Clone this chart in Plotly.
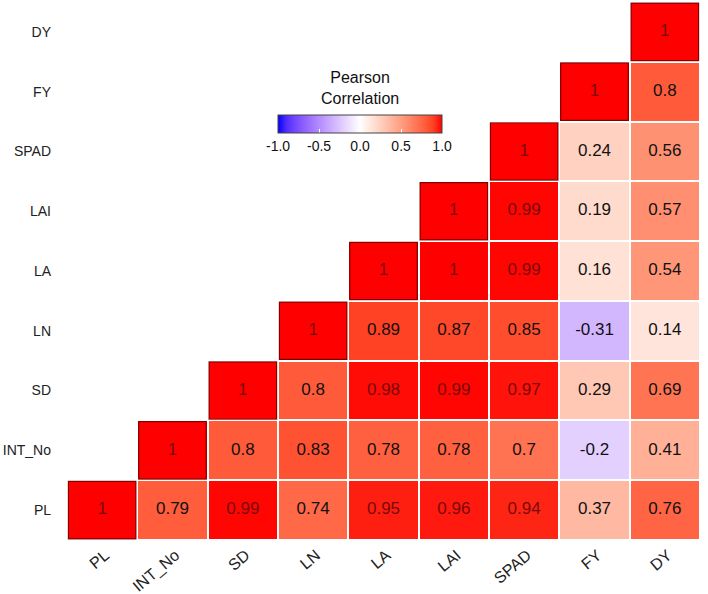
import plotly.graph_objects as go
import numpy as np

variables = ["PL", "INT_No", "SD", "LN", "LA", "LAI", "SPAD", "FY", "DY"]

# upper-triangle correlation rows (row variable vs. columns from itself to DY)
row_PL = [1, 0.79, 0.99, 0.74, 0.95, 0.96, 0.94, 0.37, 0.76]
row_INT_No = [1, 0.8, 0.83, 0.78, 0.78, 0.7, -0.2, 0.41]
row_SD = [1, 0.8, 0.98, 0.99, 0.97, 0.29, 0.69]
row_LN = [1, 0.89, 0.87, 0.85, -0.31, 0.14]
row_LA = [1, 1, 0.99, 0.16, 0.54]
row_LAI = [1, 0.99, 0.19, 0.57]
row_SPAD = [1, 0.24, 0.56]
row_FY = [1, 0.8]
row_DY = [1]

colorbar_ticks = [-1, -0.5, 0, 0.5, 1]
colorbar_ticktext = ["-1.0", "-0.5", "0.0", "0.5", "1.0"]

rows = [row_PL, row_INT_No, row_SD, row_LN, row_LA, row_LAI, row_SPAD, row_FY, row_DY]
n = len(variables)

z = [[None] * n for _ in range(n)]
for i, r in enumerate(rows):
    for k, v in enumerate(r):
        z[i][i + k] = v

# Lab interpolation to mimic ggplot gradient2 (blue - white - red)
def srgb_to_lin(c):
    c = c / 255.0
    return np.where(c <= 0.04045, c / 12.92, ((c + 0.055) / 1.055) ** 2.4)

def lin_to_srgb(c):
    c = np.clip(c, 0, 1)
    return np.where(c <= 0.0031308, 12.92 * c, 1.055 * c ** (1 / 2.4) - 0.055) * 255

M = np.array([[0.4124, 0.3576, 0.1805], [0.2126, 0.7152, 0.0722], [0.0193, 0.1192, 0.9505]])
Minv = np.linalg.inv(M)
wp = np.array([0.95047, 1.0, 1.08883])

def f(t):
    d = 6 / 29
    return np.where(t > d ** 3, np.cbrt(t), t / (3 * d * d) + 4 / 29)

def finv(t):
    d = 6 / 29
    return np.where(t > d, t ** 3, 3 * d * d * (t - 4 / 29))

def rgb_to_lab(rgb):
    xyz = M @ srgb_to_lin(np.array(rgb, dtype=float)) / wp
    fx, fy, fz = f(xyz)
    return np.array([116 * fy - 16, 500 * (fx - fy), 200 * (fy - fz)])

def lab_to_rgb(lab):
    L, a, b = lab
    fy = (L + 16) / 116
    fx = fy + a / 500
    fz = fy - b / 200
    xyz = np.array([finv(fx), finv(fy), finv(fz)]) * wp
    return lin_to_srgb(Minv @ xyz)

blue = rgb_to_lab([0, 0, 255])
white = rgb_to_lab([255, 255, 255])
red = rgb_to_lab([255, 0, 0])
colorscale = []
steps = 20
for s in range(steps + 1):
    t = s / steps
    v = -1 + 2 * t
    if v < 0:
        lab = white + (blue - white) * (-v)
    else:
        lab = white + (red - white) * v
    c = lab_to_rgb(lab)
    colorscale.append([t, "rgb(%d,%d,%d)" % tuple(int(round(x)) for x in c)])

FONT = "Liberation Sans, Arial, sans-serif"

fig = go.Figure()
fig.add_trace(go.Heatmap(
    z=z, x=variables, y=variables,
    zmin=-1, zmax=1, colorscale=colorscale,
    xgap=2, ygap=2, hoverongaps=False,
    colorbar=dict(
        orientation="h",
        x=0.463, xanchor="center",
        y=0.785, yanchor="middle",
        len=0.29, lenmode="fraction",
        thickness=18,
        title=dict(text="Pearson<br>Correlation", side="top",
                   font=dict(size=16, color="#111", family=FONT)),
        tickvals=colorbar_ticks,
        ticktext=colorbar_ticktext,
        tickfont=dict(size=14, color="#111", family=FONT),
        ticks="inside", tickcolor="white", ticklen=4,
        outlinecolor="#444", outlinewidth=1,
    ),
))

# labels
tx, ty, tt, tc = [], [], [], []
for i, r in enumerate(rows):
    for k, v in enumerate(r):
        tx.append(variables[i + k])
        ty.append(variables[i])
        tt.append(f"{v:g}")
        tc.append("#7a0a0a" if v >= 0.9 else "#111111")
fig.add_trace(go.Scatter(
    x=tx, y=ty, text=tt, mode="text",
    textfont=dict(size=17, color=tc, family=FONT),
    hoverinfo="skip", showlegend=False,
))

# dark outlines on the diagonal cells
for i in range(n):
    fig.add_shape(type="rect", xref="x", yref="y",
                  x0=i - 0.5 + 0.02, x1=i + 0.5 - 0.02, y0=i - 0.5 + 0.02, y1=i + 0.5 - 0.02,
                  line=dict(color="rgba(110,0,0,0.85)", width=1.2))

fig.update_layout(
    width=708, height=594,
    margin=dict(l=67, r=8, t=2, b=54, autoexpand=False),
    plot_bgcolor="white", paper_bgcolor="white",
    font=dict(family=FONT),
    showlegend=False,
)
fig.update_xaxes(type="category", categoryorder="array", categoryarray=variables,
                 showgrid=False, zeroline=False, showline=False, ticks="",
                 tickangle=-40, tickfont=dict(size=16, color="#222"),
                 ticklabelshift=3, ticklabelstandoff=2, automargin=False,
                 range=[-0.5, n - 0.5])
fig.update_yaxes(type="category", categoryorder="array", categoryarray=variables,
                 showgrid=False, zeroline=False, showline=False, ticks="",
                 tickfont=dict(size=14, color="#222"), ticklabelstandoff=15,
                 automargin=False, range=[-0.5, n - 0.5])

fig.write_html("out.html", config={"displayModeBar": False},
               post_script="document.body.style.margin='0';")
